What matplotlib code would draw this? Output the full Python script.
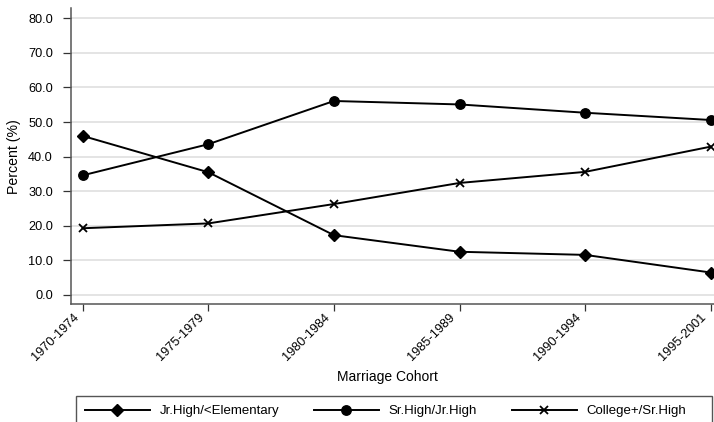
import matplotlib
matplotlib.use('Agg')
import matplotlib.pyplot as plt
from matplotlib.patches import Rectangle
from matplotlib.lines import Line2D
from matplotlib.transforms import ScaledTranslation

plt.rcParams['font.family'] = ['Liberation Sans', 'DejaVu Sans']

###############################################################################
# Data
###############################################################################
cohorts = ['1970-1974', '1975-1979', '1980-1984', '1985-1989', '1990-1994', '1995-2001']
jrHigh = [46.0, 35.5, 17.3, 12.5, 11.6, 6.5]
srHigh = [34.6, 43.6, 56.1, 55.1, 52.7, 50.6]
college = [19.3, 20.7, 26.3, 32.4, 35.6, 42.9]
labels = ['Jr.High/<Elementary', 'Sr.High/Jr.High', 'College+/Sr.High']
yticks = [0, 10, 20, 30, 40, 50, 60, 70, 80]

# marker styles per series --------------------------------------------------
STYLES = [
    {'marker': 'D', 'ms': 5.8},
    {'marker': 'o', 'ms': 6.8},
    {'marker': 'x', 'ms': 6, 'mew': 1.3},
]
LW = 1.4

###############################################################################
# Plot
###############################################################################
fig = plt.figure(figsize=(7.14, 4.22), dpi=100)
ax = fig.add_axes([70.7/714, 1-304.3/422, 643.3/714, 296/422])
xs = list(range(len(cohorts)))
for (ys, st, lb) in zip([jrHigh, srHigh, college], STYLES, labels):
    ax.plot(xs, ys, color='black', lw=LW, label=lb, **st)

ax.set_xlim(-0.0955, 5.026)
ax.set_ylim(-2.69, 82.9)
ax.set_yticks(yticks)
ax.set_yticklabels(['{:.1f}'.format(v) for v in yticks], fontsize=9.2)
ax.set_xticks(xs)
ax.set_xticklabels([])
# rotated cohort labels, ends sitting just left of and below the ticks
offset = ScaledTranslation(-6/100, -11/100, fig.dpi_scale_trans)
for (x, lab) in zip(xs, cohorts):
    ax.text(
        x, 0, lab, transform=ax.get_xaxis_transform() + offset,
        rotation=45, ha='right', va='center', rotation_mode='anchor',
        fontsize=9.2
    )
ax.tick_params(axis='y', length=5.8, width=0.9, color='#333333', pad=7)
ax.tick_params(axis='x', length=5, width=0.9, color='#333333', pad=1.5)
ax.grid(axis='y', color='#e4e4e4', lw=1.4)
ax.set_axisbelow(True)
for side in ['top', 'right']:
    ax.spines[side].set_visible(False)
for side in ['left', 'bottom']:
    ax.spines[side].set_color('#555555')
    ax.spines[side].set_linewidth(1.1)
ax.set_ylabel('Percent (%)', fontsize=10.2)
ax.yaxis.set_label_coords((21-70.7)/643.3, 0.5)

fig.text(387/714, 1-377/422, 'Marriage Cohort', fontsize=10, ha='center', va='center')

# Legend box ------------------------------------------------------------------
fig.patches.append(Rectangle(
    (76/714, -0.05), 636/714, 0.05+1-396/422, transform=fig.transFigure,
    facecolor='white', edgecolor='#555555', lw=1.0
))
handles = [Line2D([], [], color='black', lw=LW, **st) for st in STYLES]
fig.legend(
    handles, labels, ncol=3, frameon=False, fontsize=9.5,
    loc='center left', bbox_to_anchor=(85/714, 1-411/422),
    handlelength=4.9, handletextpad=0.75, columnspacing=2.65,
    borderaxespad=0, borderpad=0
)

fig.savefig('out.png', dpi=100, facecolor='white')
plt.close('all')
